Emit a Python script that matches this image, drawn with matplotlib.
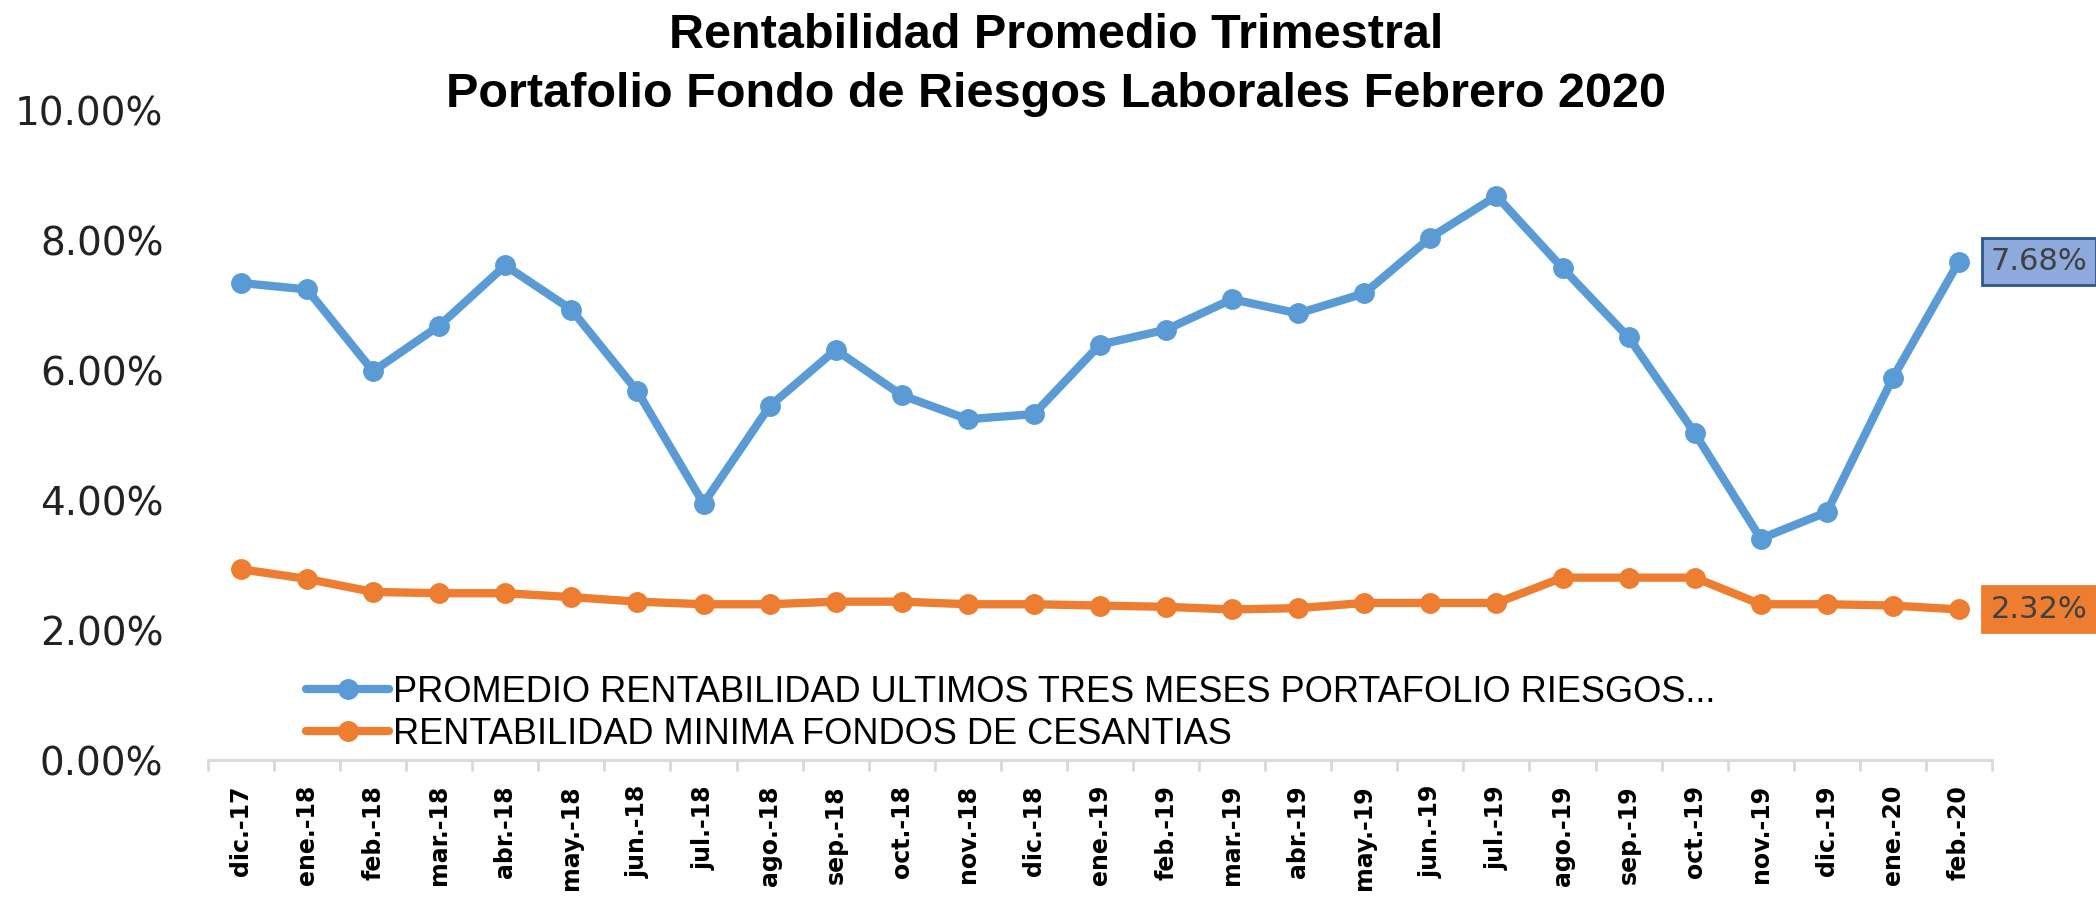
import numpy as np
import matplotlib
matplotlib.use("Agg")
import matplotlib.pyplot as plt
from matplotlib.ticker import PercentFormatter, FixedLocator

# datos (en %)
meses = ["dic.-17", "ene.-18", "feb.-18", "mar.-18", "abr.-18", "may.-18", "jun.-18",
         "jul.-18", "ago.-18", "sep.-18", "oct.-18", "nov.-18", "dic.-18", "ene.-19",
         "feb.-19", "mar.-19", "abr.-19", "may.-19", "jun.-19", "jul.-19", "ago.-19",
         "sep.-19", "oct.-19", "nov.-19", "dic.-19", "ene.-20", "feb.-20"]
promedio_riesgos = [7.35, 7.25, 5.99, 6.69, 7.62, 6.94, 5.68, 3.95, 5.45, 6.32, 5.62,
                    5.25, 5.33, 6.40, 6.63, 7.10, 6.88, 7.19, 8.05, 8.69, 7.58, 6.51,
                    5.04, 3.41, 3.82, 5.89, 7.68]
minima_cesantias = [2.94, 2.79, 2.59, 2.57, 2.57, 2.51, 2.44, 2.40, 2.40, 2.44, 2.44,
                    2.40, 2.40, 2.38, 2.36, 2.32, 2.34, 2.42, 2.42, 2.42, 2.81, 2.81,
                    2.81, 2.40, 2.40, 2.38, 2.32]
nombres = ["PROMEDIO RENTABILIDAD ULTIMOS TRES MESES PORTAFOLIO RIESGOS...",
           "RENTABILIDAD MINIMA FONDOS DE CESANTIAS"]

azul = "#5B9BD5"
naranja = "#ED7D31"
arial = ["Liberation Sans", "DejaVu Sans"]

fig = plt.figure(figsize=(20.96, 8.97), dpi=100)
ax = fig.add_axes([0.0992, 0.1527, 0.8512, 0.7236])

x = np.arange(len(meses))
l1, = ax.plot(x, promedio_riesgos, color=azul, lw=6, marker="o", ms=14,
              solid_capstyle="round", clip_on=False)
l2, = ax.plot(x, minima_cesantias, color=naranja, lw=6, marker="o", ms=14,
              solid_capstyle="round", clip_on=False)

ax.set_xlim(-0.5, len(meses) - 0.5)
ax.set_ylim(0, 10)
ax.yaxis.set_major_locator(FixedLocator([0, 2, 4, 6, 8, 10]))
ax.yaxis.set_major_formatter(PercentFormatter(decimals=2))
ax.tick_params(axis="y", length=0, pad=32, labelsize=28, labelcolor="#222222")

ax.set_xticks(x)
ax.set_xticklabels(meses, rotation=90, fontsize=17, fontweight="bold")
ax.set_xticks(np.arange(-0.5, len(meses)), minor=True)
ax.tick_params(axis="x", which="major", length=0, pad=18)
ax.tick_params(axis="x", which="minor", length=8, width=2, color="#D9D9D9")

for s in ["top", "right", "left"]:
    ax.spines[s].set_visible(False)
ax.spines["bottom"].set_color("#D9D9D9")
ax.spines["bottom"].set_linewidth(2)

# etiquetas del ultimo valor
ax.annotate(f"{promedio_riesgos[-1]:.2f}%", (x[-1], promedio_riesgos[-1]),
            xytext=(32, 0), textcoords="offset pixels", ha="left", va="center",
            fontsize=22, color="#404040", annotation_clip=False,
            bbox=dict(boxstyle="square,pad=0.28", fc="#8EA9DB", ec="#2F5597", lw=2))
ax.annotate(f"{minima_cesantias[-1]:.2f}%", (x[-1], minima_cesantias[-1]),
            xytext=(32, 0), textcoords="offset pixels", ha="left", va="center",
            fontsize=22, color="#404040", annotation_clip=False,
            bbox=dict(boxstyle="square,pad=0.28", fc=naranja, ec=naranja, lw=2))

fig.legend([l1, l2], nombres, loc="center left", bbox_to_anchor=(0.146, 0.205),
           frameon=False, prop={"family": arial, "size": 26},
           handlelength=2.3, handletextpad=0.1, labelspacing=0.2, borderpad=0,
           borderaxespad=0)

fig.text(0.504, 0.960, "Rentabilidad Promedio Trimestral", ha="center", va="center",
         fontsize=35, fontweight="bold", family=arial)
fig.text(0.504, 0.895, "Portafolio Fondo de Riesgos Laborales Febrero 2020",
         ha="center", va="center", fontsize=35, fontweight="bold", family=arial)

fig.savefig("out.png", dpi=100)
